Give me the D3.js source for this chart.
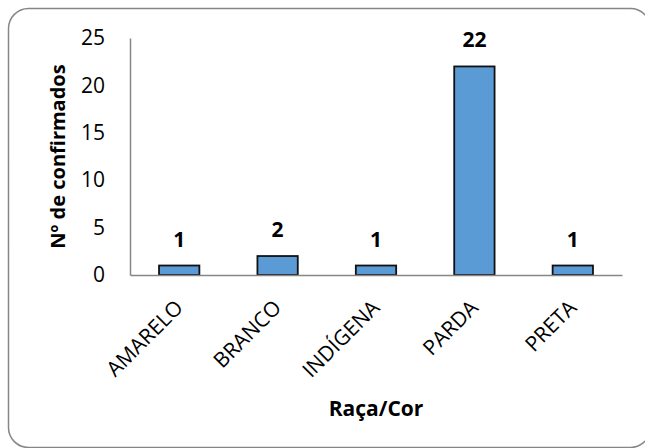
<!DOCTYPE html>
<html>
<head>
<meta charset="utf-8">
<script src="https://cdn.jsdelivr.net/npm/d3@7"></script>
<style>
  body { margin: 0; background: #fff; }
  svg { display: block; font-family: 'Open Sans', sans-serif; }
</style>
</head>
<body>
<div id="chart"></div>
<script>
// Data
const categories = ['AMARELO', 'BRANCO', 'INDÍGENA', 'PARDA', 'PRETA'];
const values = [1, 2, 1, 22, 1];
const yTicks = [0, 5, 10, 15, 20, 25];
const xTitle = 'Raça/Cor';
const yTitle = 'Nº de confirmados';

const W = 645, H = 448;
const margin = { top: 38, right: 23, bottom: 173, left: 130 };
const width = W - margin.left - margin.right;
const height = H - margin.top - margin.bottom;

const svg = d3.select('#chart').append('svg')
  .attr('width', W)
  .attr('height', H);

// Outer rounded frame (runs off the right edge like the original)
svg.append('rect')
  .attr('x', 8.5)
  .attr('y', 8.5)
  .attr('width', 642)
  .attr('height', 439)
  .attr('rx', 20)
  .attr('fill', '#fff')
  .attr('stroke', '#868686')
  .attr('stroke-width', 1.5);

const g = svg.append('g')
  .attr('transform', `translate(${margin.left},${margin.top})`);

const x = d3.scaleBand()
  .domain(categories)
  .range([0, width])
  .paddingInner(0.59)
  .paddingOuter(0.295);

const y = d3.scaleLinear()
  .domain([0, 25])
  .range([height, 0]);

// Y axis
const yAxis = g.append('g')
  .call(d3.axisLeft(y).tickValues(yTicks).tickSize(0).tickPadding(25));
yAxis.select('.domain').attr('stroke', '#868686').attr('stroke-width', 1.5);
yAxis.selectAll('text')
  .attr('font-size', '21px')
  .attr('font-family', "'Open Sans', sans-serif")
  .attr('fill', '#000');

// Bars
g.selectAll('rect.bar')
  .data(categories)
  .join('rect')
  .attr('class', 'bar')
  .attr('x', d => x(d))
  .attr('y', (d, i) => y(values[i]))
  .attr('width', x.bandwidth())
  .attr('height', (d, i) => height - y(values[i]))
  .attr('fill', '#5B9BD5')
  .attr('stroke', '#111')
  .attr('stroke-width', 1.8);

// X axis
const xAxis = g.append('g')
  .attr('transform', `translate(0,${height})`)
  .call(d3.axisBottom(x).tickSize(0).tickFormat(''));
xAxis.select('.domain').attr('stroke', '#868686').attr('stroke-width', 1.5);

// Rotated category labels
g.selectAll('text.cat')
  .data(categories)
  .join('text')
  .attr('class', 'cat')
  .attr('text-anchor', 'end')
  .attr('font-size', '21px')
  .attr('fill', '#000')
  .attr('transform', d => `translate(${x(d) + x.bandwidth() / 2 + 5},${height + 34}) rotate(-45)`)
  .text(d => d);

// Value labels
g.selectAll('text.val')
  .data(categories)
  .join('text')
  .attr('class', 'val')
  .attr('text-anchor', 'middle')
  .attr('font-size', '21px')
  .attr('font-weight', 'bold')
  .attr('fill', '#000')
  .attr('x', d => x(d) + x.bandwidth() / 2)
  .attr('y', (d, i) => y(values[i]) - 19)
  .text((d, i) => values[i]);

// Axis titles
svg.append('text')
  .attr('x', margin.left + width / 2)
  .attr('y', 416)
  .attr('text-anchor', 'middle')
  .attr('font-size', '21px')
  .attr('font-weight', 'bold')
  .text(xTitle);

svg.append('text')
  .attr('transform', `translate(65,${margin.top + height / 2}) rotate(-90)`)
  .attr('text-anchor', 'middle')
  .attr('font-size', '20px')
  .attr('font-weight', 'bold')
  .text(yTitle);
</script>
</body>
</html>
